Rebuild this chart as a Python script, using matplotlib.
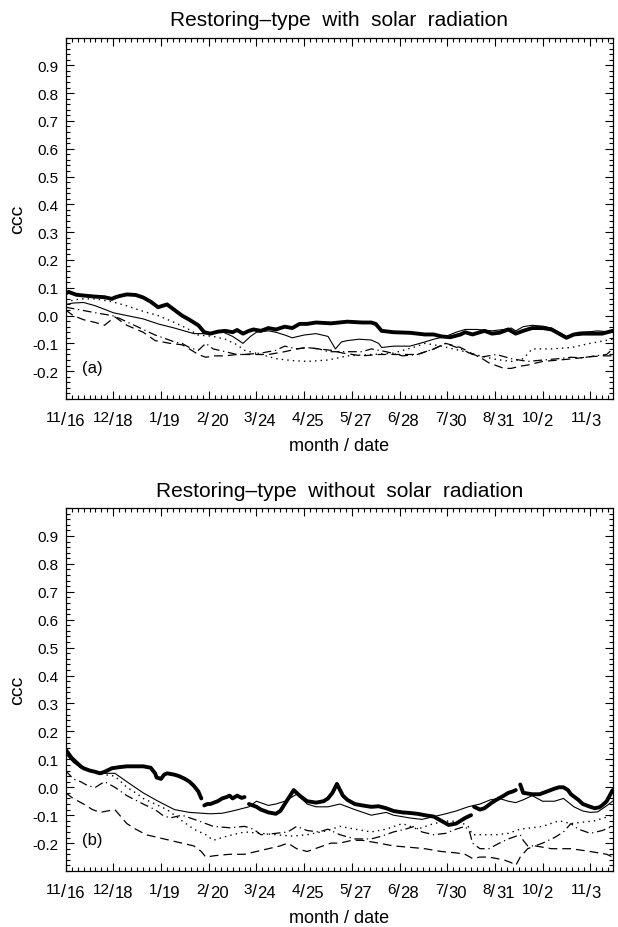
import numpy as np
import matplotlib
matplotlib.use("Agg")
import matplotlib.pyplot as plt
from matplotlib.ticker import MultipleLocator, FixedLocator

plt.rcParams['font.family'] = ['Liberation Sans', 'DejaVu Sans']

# tick labels (month / date), one every 32 days starting 11/16
tick_months = ['11', '12', '1', '2', '3', '4', '5', '6', '7', '8', '10', '11']
tick_dates = ['16', '18', '19', '20', '24', '25', '27', '28', '30', '31', '2', '3']
tick_days = [0, 32, 64, 96, 128, 160, 192, 224, 256, 288, 320, 352]

#############################
# panel (a): with solar radiation
#############################
a_thick_day = [0, 2, 7, 12, 20, 26, 31, 33, 36, 41, 47, 52, 57, 62, 65, 68, 73, 78, 83, 89, 93, 97, 102,
               107, 112, 115, 119, 123, 126, 131, 136, 141, 147, 152, 157, 162, 168, 178, 189, 199, 205,
               208, 212, 220, 231, 241, 247, 252, 258, 265, 268, 273, 281, 286, 291, 297, 302, 307, 313,
               320, 326, 331, 336, 341, 347, 352, 360, 367]
a_thick_val = [0.08, 0.085, 0.075, 0.072, 0.068, 0.066, 0.06, 0.065, 0.07, 0.076, 0.074, 0.065, 0.05,
               0.03, 0.035, 0.04, 0.02, 0.0, -0.015, -0.035, -0.06, -0.065, -0.058, -0.055, -0.06, -0.052,
               -0.065, -0.055, -0.05, -0.055, -0.045, -0.05, -0.04, -0.045, -0.03, -0.03, -0.025, -0.028,
               -0.022, -0.025, -0.025, -0.03, -0.055, -0.06, -0.062, -0.068, -0.068, -0.075, -0.078,
               -0.068, -0.06, -0.068, -0.055, -0.065, -0.062, -0.05, -0.065, -0.055, -0.045, -0.045,
               -0.05, -0.065, -0.08, -0.068, -0.065, -0.065, -0.065, -0.055]

a_thin_day = [0, 5, 12, 20, 32, 41, 52, 62, 73, 86, 95, 105, 112, 119, 124, 128, 136, 141, 147, 152,
              160, 168, 176, 181, 185, 189, 197, 205, 210, 212, 220, 231, 241, 247, 255, 262, 268, 276,
              286, 294, 299, 302, 307, 313, 320, 326, 331, 336, 344, 352, 357, 367]
a_thin_val = [0.04, 0.045, 0.047, 0.035, 0.01, 0.0, -0.012, -0.03, -0.045, -0.065, -0.065, -0.058,
              -0.075, -0.1, -0.075, -0.06, -0.055, -0.06, -0.07, -0.08, -0.07, -0.065, -0.075, -0.12,
              -0.095, -0.09, -0.085, -0.088, -0.1, -0.115, -0.11, -0.11, -0.095, -0.085, -0.075, -0.06,
              -0.05, -0.05, -0.055, -0.05, -0.045, -0.055, -0.04, -0.035, -0.038, -0.045, -0.06,
              -0.075, -0.06, -0.058, -0.055, -0.06]

a_dot_day = [0, 10, 20, 31, 41, 52, 62, 73, 81, 89, 99, 107, 115, 120, 131, 141, 152, 162, 176, 189,
             205, 220, 236, 241, 252, 260, 268, 278, 289, 299, 307, 313, 326, 339, 352, 367]
a_dot_val = [0.05, 0.06, 0.06, 0.05, 0.035, 0.015, 0.0, -0.025, -0.045, -0.07, -0.075, -0.085, -0.105,
             -0.125, -0.14, -0.155, -0.162, -0.165, -0.16, -0.145, -0.14, -0.135, -0.11, -0.1, -0.11,
             -0.12, -0.13, -0.145, -0.158, -0.165, -0.155, -0.12, -0.12, -0.115, -0.1, -0.085]

a_dash_day = [0, 5, 12, 20, 26, 33, 41, 52, 60, 65, 70, 78, 83, 89, 94, 100, 107, 115, 120, 128, 136,
              147, 155, 162, 170, 178, 186, 199, 210, 220, 231, 236, 247, 255, 265, 272, 278, 284,
              289, 294, 299, 305, 310, 320, 331, 341, 352, 360, 367]
a_dash_val = [0.02, 0.0, -0.015, -0.025, -0.035, -0.005, -0.035, -0.06, -0.09, -0.095, -0.1, -0.105,
              -0.12, -0.14, -0.15, -0.145, -0.145, -0.14, -0.14, -0.14, -0.14, -0.13, -0.12, -0.115,
              -0.12, -0.125, -0.135, -0.145, -0.14, -0.14, -0.14, -0.14, -0.12, -0.1, -0.115, -0.135,
              -0.15, -0.17, -0.18, -0.19, -0.19, -0.182, -0.178, -0.165, -0.16, -0.155, -0.148,
              -0.145, -0.145]

a_dashdot_day = [0, 5, 10, 20, 31, 36, 44, 52, 60, 68, 73, 78, 83, 89, 94, 99, 107, 115, 120, 131,
                 141, 147, 155, 162, 170, 176, 189, 199, 205, 215, 226, 236, 247, 255, 265, 273, 278,
                 289, 299, 310, 320, 331, 339, 347, 355, 363, 367]
a_dashdot_val = [0.03, 0.025, 0.02, 0.01, 0.0, -0.01, -0.03, -0.05, -0.07, -0.085, -0.095, -0.1,
                 -0.115, -0.125, -0.1, -0.12, -0.13, -0.14, -0.14, -0.135, -0.125, -0.11, -0.12,
                 -0.115, -0.12, -0.13, -0.13, -0.13, -0.12, -0.13, -0.145, -0.14, -0.12, -0.1, -0.12,
                 -0.14, -0.15, -0.14, -0.155, -0.165, -0.16, -0.155, -0.15, -0.152, -0.145, -0.14,
                 -0.12]

#############################
# panel (b): without solar radiation (nan = gap)
#############################
b_thick_day = [0, 2, 4, 7, 10, 12, 16, 20, 23, 26, 31, 36, 41, 47, 52, 57, 60, 61, 64, 66, 68, 73, 76,
               80, 83, 86, 89, 91, 92, 93, 95, 97, 102, 105, 108, 110, 112, 115, 118, 120, 121, 123,
               128, 131, 136, 141, 144, 147, 150, 153, 157, 162, 168, 173, 176, 179, 182, 186, 189,
               194, 199, 205, 210, 215, 220, 226, 231, 236, 241, 247, 252, 257, 262, 265, 268, 272,
               273, 274, 278, 281, 286, 289, 294, 297, 300, 302, 304, 305, 307, 313, 318, 323, 328,
               331, 334, 337, 339, 344, 347, 352, 355, 358, 360, 363, 365, 367]
b_thick_val = [0.135, 0.12, 0.105, 0.09, 0.075, 0.068, 0.06, 0.055, 0.05, 0.055, 0.068, 0.072, 0.075,
               0.075, 0.075, 0.07, 0.05, 0.035, 0.03, 0.045, 0.05, 0.045, 0.04, 0.03, 0.02, 0.005,
               -0.015, -0.04, np.nan, -0.065, -0.06, -0.06, -0.05, -0.04, -0.035, -0.03, -0.04, -0.03,
               -0.038, -0.035, np.nan, -0.06, -0.07, -0.08, -0.09, -0.095, -0.085, -0.06, -0.035,
               -0.01, -0.03, -0.05, -0.055, -0.05, -0.04, -0.02, 0.012, -0.03, -0.045, -0.06, -0.065,
               -0.07, -0.068, -0.075, -0.085, -0.09, -0.092, -0.095, -0.1, -0.105, -0.12, -0.135,
               -0.13, -0.12, -0.11, -0.1, np.nan, -0.07, -0.08, -0.075, -0.055, -0.045, -0.03, -0.02,
               -0.015, -0.01, np.nan, 0.01, -0.02, -0.025, -0.025, -0.015, -0.005, 0.0, 0.0, -0.01,
               -0.025, -0.045, -0.06, -0.07, -0.075, -0.072, -0.065, -0.05, -0.03, -0.01]

b_thin_day = [0, 5, 10, 15, 22, 28, 33, 41, 52, 62, 73, 83, 97, 105, 112, 123, 128, 136, 141, 147,
              155, 162, 168, 176, 184, 194, 205, 215, 220, 231, 239, 247, 255, 262, 270, 278, 285,
              291, 297, 302, 307, 313, 320, 328, 334, 341, 347, 352, 357, 362, 367]
b_thin_val = [0.12, 0.09, 0.07, 0.06, 0.05, 0.05, 0.05, 0.02, -0.02, -0.05, -0.08, -0.09, -0.095,
              -0.093, -0.085, -0.07, -0.05, -0.065, -0.06, -0.05, -0.025, -0.06, -0.07, -0.07, -0.06,
              -0.08, -0.1, -0.09, -0.1, -0.11, -0.115, -0.105, -0.095, -0.085, -0.07, -0.06, -0.045,
              -0.04, -0.05, -0.055, -0.045, -0.03, -0.05, -0.05, -0.04, -0.07, -0.085, -0.09, -0.088,
              -0.07, -0.05]

b_dot_day = [20, 26, 33, 41, 47, 52, 60, 68, 78, 86, 94, 99, 105, 112, 120, 131, 141, 152, 162, 176,
             184, 194, 205, 215, 226, 236, 247, 257, 265, 270, 273, 281, 289, 297, 305, 313, 320,
             331, 339, 347, 355, 367]
b_dot_val = [0.05, 0.045, 0.04, 0.0, -0.02, -0.04, -0.06, -0.08, -0.12, -0.15, -0.17, -0.19, -0.18,
             -0.17, -0.16, -0.165, -0.17, -0.175, -0.17, -0.155, -0.14, -0.15, -0.16, -0.15, -0.13,
             -0.15, -0.13, -0.12, -0.125, -0.14, -0.17, -0.17, -0.17, -0.165, -0.15, -0.145, -0.14,
             -0.12, -0.13, -0.125, -0.12, -0.1]

b_dash_day = [0, 5, 12, 18, 23, 28, 33, 41, 47, 54, 62, 70, 78, 86, 91, 94, 100, 110, 120, 128, 136,
              144, 149, 155, 162, 170, 178, 184, 192, 199, 210, 220, 231, 241, 252, 262, 268, 273,
              278, 284, 289, 294, 299, 302, 305, 310, 315, 326, 339, 352, 363, 367]
b_dash_val = [-0.02, -0.04, -0.06, -0.08, -0.09, -0.085, -0.08, -0.13, -0.15, -0.17, -0.18, -0.19,
              -0.2, -0.21, -0.23, -0.25, -0.245, -0.24, -0.24, -0.23, -0.22, -0.21, -0.2, -0.22,
              -0.23, -0.215, -0.2, -0.2, -0.19, -0.19, -0.2, -0.21, -0.215, -0.22, -0.23, -0.235,
              -0.24, -0.255, -0.25, -0.25, -0.255, -0.26, -0.27, -0.28, -0.25, -0.22, -0.21, -0.22,
              -0.22, -0.23, -0.24, -0.25]

b_dashdot_day = [0, 5, 10, 15, 20, 26, 33, 41, 52, 60, 65, 70, 78, 89, 99, 110, 120, 126, 131, 141,
                 149, 155, 162, 170, 176, 184, 194, 205, 212, 220, 228, 234, 239, 247, 255, 262, 268,
                 271, 273, 278, 284, 291, 297, 305, 307, 310, 315, 320, 328, 334, 339, 344, 352,
                 360, 367]
b_dashdot_val = [0.06, 0.03, 0.02, 0.005, 0.0, 0.02, 0.0, -0.03, -0.06, -0.08, -0.1, -0.11, -0.1,
                 -0.12, -0.14, -0.145, -0.14, -0.15, -0.17, -0.165, -0.16, -0.14, -0.155, -0.16,
                 -0.15, -0.17, -0.185, -0.185, -0.175, -0.16, -0.15, -0.14, -0.16, -0.17, -0.165,
                 -0.15, -0.14, -0.16, -0.2, -0.22, -0.22, -0.2, -0.185, -0.17, -0.19, -0.21, -0.21,
                 -0.2, -0.18, -0.16, -0.13, -0.15, -0.165, -0.155, -0.14]


def setup(ax, title, tag):
    ax.set_xlim(0, 367)
    ax.set_ylim(-0.3, 1.0)
    ax.set_title(title, fontsize=15, pad=9)
    ax.set_ylabel('ccc', fontsize=14, labelpad=5)
    ax.set_xlabel('month / date', fontsize=13, labelpad=24)
    ax.xaxis.set_major_locator(FixedLocator(tick_days))
    ax.set_xticklabels([])
    # month / date labels: raised month, slash, lowered date
    for day, m, d in zip(tick_days, tick_months, tick_dates):
        kw = dict(xy=(day, 0), xycoords=('data', 'axes fraction'), textcoords='offset pixels',
                  va='baseline', annotation_clip=False)
        ax.annotate(m, xytext=(-4, -22), ha='right', fontsize=11, **kw)
        ax.annotate('/', xytext=(-2, -25), ha='center', fontsize=13, **kw)
        ax.annotate(d, xytext=(1, -26), ha='left', fontsize=12, **kw)
    ax.xaxis.set_minor_locator(MultipleLocator(4))
    ax.yaxis.set_major_locator(FixedLocator(np.arange(-0.2, 0.91, 0.1)))
    ax.yaxis.set_minor_locator(MultipleLocator(0.02))
    ax.yaxis.set_major_formatter(plt.FuncFormatter(lambda v, p: f'{v:.1f}' if abs(v) > 1e-9 else '0.0'))
    ax.tick_params(which='both', direction='in', top=True, right=True, width=0.8)
    ax.tick_params(which='major', length=6)
    ax.tick_params(which='minor', length=3)
    ax.tick_params(axis='y', labelsize=11, pad=5)
    for s in ax.spines.values():
        s.set_linewidth(0.9)
    ax.text(0.03, 0.075, tag, transform=ax.transAxes, fontsize=12)


fig = plt.figure(figsize=(6.18, 9.28), dpi=100)
ax1 = fig.add_axes([0.1063, 0.569, 0.885, 0.3895])
ax2 = fig.add_axes([0.1063, 0.0603, 0.885, 0.3912])

# panel (a)
ax1.plot(a_dot_day, a_dot_val, color='k', lw=1.0, linestyle=(0, (1, 3)))
ax1.plot(a_dash_day, a_dash_val, color='k', lw=0.9, linestyle=(0, (7, 4)))
ax1.plot(a_dashdot_day, a_dashdot_val, color='k', lw=0.9, linestyle=(0, (7, 3, 1, 3)))
ax1.plot(a_thin_day, a_thin_val, color='k', lw=0.8)
ax1.plot(a_thick_day, a_thick_val, color='k', lw=2.8, solid_capstyle='round', solid_joinstyle='round')
setup(ax1, 'Restoring\u2013type  with  solar  radiation', '(a)')

# panel (b)
ax2.plot(b_dot_day, b_dot_val, color='k', lw=1.0, linestyle=(0, (1, 3)))
ax2.plot(b_dash_day, b_dash_val, color='k', lw=0.9, linestyle=(0, (7, 4)))
ax2.plot(b_dashdot_day, b_dashdot_val, color='k', lw=0.9, linestyle=(0, (7, 3, 1, 3)))
ax2.plot(b_thin_day, b_thin_val, color='k', lw=0.8)
ax2.plot(b_thick_day, b_thick_val, color='k', lw=2.8, solid_capstyle='round', solid_joinstyle='round')
setup(ax2, 'Restoring\u2013type  without  solar  radiation', '(b)')

plt.savefig('out.png', dpi=100)
